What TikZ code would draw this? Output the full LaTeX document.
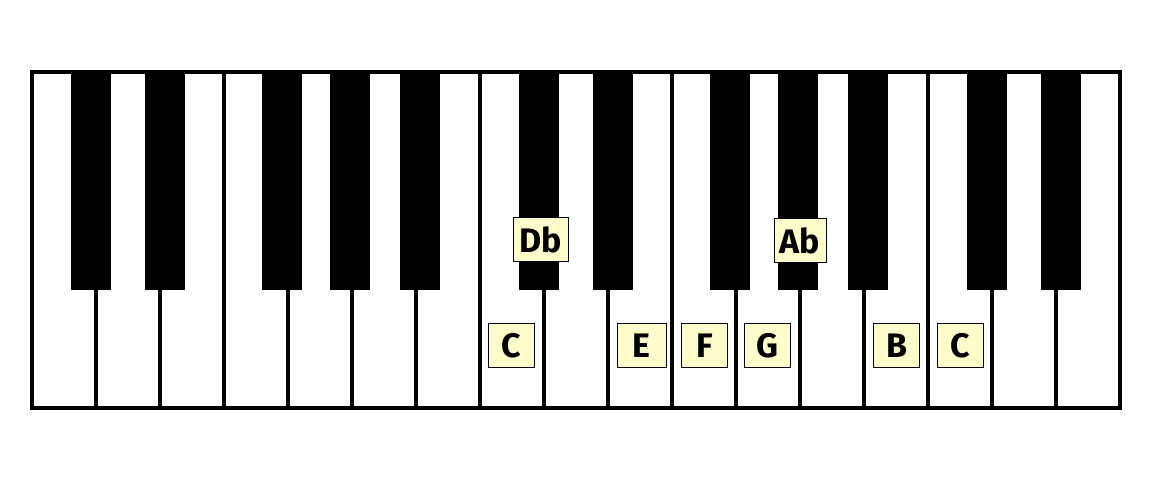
\documentclass[tikz,border=0pt]{standalone}
\usepackage{fontspec}
\setmainfont{Fira Sans}

\begin{document}
\begin{tikzpicture}[x=0.5pt,y=-0.5pt,
   keyline/.style={line width=2pt},
   notebox/.style={draw,line width=0.5pt,fill=yellow!20,inner sep=0pt,
      minimum width=23pt,minimum height=22pt,
      font=\fontsize{17}{19}\selectfont\bfseries}]
   \useasboundingbox (0,0) rectangle (1152,480);
   % white keys
   \draw[keyline] (32,72) rectangle (1120,408);
   \draw[keyline] (96,72) -- (96,408);
   \draw[keyline] (160,72) -- (160,408);
   \draw[keyline] (224,72) -- (224,408);
   \draw[keyline] (288,72) -- (288,408);
   \draw[keyline] (352,72) -- (352,408);
   \draw[keyline] (416,72) -- (416,408);
   \draw[keyline] (480,72) -- (480,408);
   \draw[keyline] (544,72) -- (544,408);
   \draw[keyline] (608,72) -- (608,408);
   \draw[keyline] (672,72) -- (672,408);
   \draw[keyline] (736,72) -- (736,408);
   \draw[keyline] (800,72) -- (800,408);
   \draw[keyline] (864,72) -- (864,408);
   \draw[keyline] (928,72) -- (928,408);
   \draw[keyline] (992,72) -- (992,408);
   \draw[keyline] (1056,72) -- (1056,408);
   % black keys
   \fill (71,72) rectangle (111,290);
   \fill (145,72) rectangle (185,290);
   \fill (262,72) rectangle (302,290);
   \fill (330,72) rectangle (370,290);
   \fill (400,72) rectangle (440,290);
   \fill (519,72) rectangle (559,290);
   \fill (593,72) rectangle (633,290);
   \fill (710,72) rectangle (750,290);
   \fill (778,72) rectangle (818,290);
   \fill (848,72) rectangle (888,290);
   \fill (967,72) rectangle (1007,290);
   \fill (1041,72) rectangle (1081,290);
   % note names
   \node[notebox,minimum width=27.5pt] (Db) at (540.5,240) {Db};
   \node[notebox,minimum width=26pt] (Ab) at (800,240.5) {Ab};
   \node[notebox] (C1) at (511,346) {C};
   \node[notebox,minimum width=24.5pt] (E) at (641.5,346) {E};
   \node[notebox] (F) at (704.5,346) {F};
   \node[notebox] (G) at (767,346) {G};
   \node[notebox] (B) at (896.5,346) {B};
   \node[notebox] (C2) at (960,346) {C};
\end{tikzpicture}
\end{document}
